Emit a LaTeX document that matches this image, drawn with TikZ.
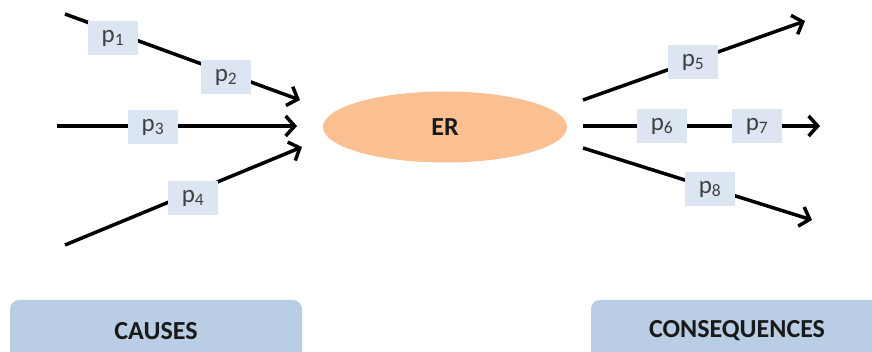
\documentclass[tikz,border=0pt]{standalone}
\usepackage{fontspec}
\setmainfont{Carlito}
\usetikzlibrary{shapes.geometric,arrows.meta}
\definecolor{erorange}{RGB}{250,192,146}
\definecolor{pblue}{RGB}{220,230,242}
\definecolor{capblue}{RGB}{185,205,228}
\definecolor{textgray}{RGB}{64,64,64}
\tikzset{
    flow/.style = {line width=3.5pt, -{Straight Barb[length=9pt,width=20pt,line width=3.5pt]}},
    pbox/.style = {fill=pblue, minimum width=50pt, minimum height=34pt, inner sep=0pt,
                   font=\fontsize{25}{30}\selectfont, text=textgray},
    capbox/.style = {fill=capblue, rounded corners=9pt, minimum height=62pt, inner sep=0pt,
                     font=\fontsize{26}{31}\selectfont\bfseries, text=black!90},
}
\newcommand{\pl}[1]{p\textsubscript{#1}}
\begin{document}
\begin{tikzpicture}[x=1pt, y=-1pt]
    \useasboundingbox (0,0) rectangle (872,352);
    \clip (0,0) rectangle (872,352);
    % causes side
    \coordinate (s1) at (65,14);   \coordinate (e1) at (300,100);
    \coordinate (s3) at (57,126);  \coordinate (e3) at (297,126);
    \coordinate (s4) at (65,245);  \coordinate (e4) at (302,147);
    \draw [flow] (s1) -- (e1);
    \draw [flow] (s3) -- (e3);
    \draw [flow] (s4) -- (e4);
    \node [pbox] (p1) at (113,38) {\pl{1}};
    \node [pbox] (p2) at (226,77) {\pl{2}};
    \node [pbox] (p3) at (153,127) {\pl{3}};
    \node [pbox] (p4) at (193,198) {\pl{4}};
    % effect
    \node [ellipse, fill=erorange, minimum width=244pt, minimum height=71pt, inner sep=0pt,
           font=\fontsize{26}{31}\selectfont\bfseries, text=black!90] (er) at (445,127) {ER};
    % consequences side
    \coordinate (s5) at (583,100); \coordinate (e5) at (805,21);
    \coordinate (s6) at (583,126); \coordinate (e6) at (820,126);
    \coordinate (s8) at (583,148); \coordinate (e8) at (812,220);
    \draw [flow] (s5) -- (e5);
    \draw [flow] (s6) -- (e6);
    \draw [flow] (s8) -- (e8);
    \node [pbox] (p5) at (693,62) {\pl{5}};
    \node [pbox] (p6) at (662,126) {\pl{6}};
    \node [pbox] (p7) at (757,126) {\pl{7}};
    \node [pbox] (p8) at (710,189) {\pl{8}};
    % bottom labels
    \node [capbox, minimum width=292pt] (causes) at (156,331) {\raisebox{-3pt}{CAUSES}};
    \node [capbox, minimum width=292pt] (cons) at (737,331) {\raisebox{-3pt}{CONSEQUENCES}};
\end{tikzpicture}
\end{document}
